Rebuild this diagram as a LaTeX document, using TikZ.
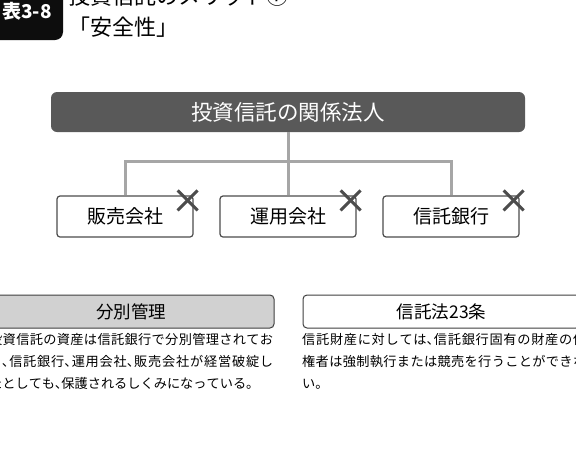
\documentclass[tikz,border=0pt]{standalone}
\usepackage{fontspec}
\setmainfont{Noto Sans CJK JP}
\newfontfamily\bodyfont{Noto Sans CJK JP}[RawFeature=+halt]
\XeTeXlinebreaklocale "ja"
\XeTeXlinebreakskip=0pt plus 1pt

\begin{document}
\begin{tikzpicture}[x=1pt, y=-1pt,
    header/.style={fill=black!65, text=white, rounded corners=6, minimum width=474, minimum height=40, inner sep=0, font=\fontsize{21.5}{24}\selectfont},
    firm/.style={draw=black!70, line width=1.2, fill=white, rounded corners=3, minimum width=136, minimum height=41, inner sep=0, font=\fontsize{19}{22}\selectfont},
    link/.style={draw=black!35, line width=3},
    cross/.style={draw=black!70, line width=3},
    tag/.style={draw=black!75, line width=1, rounded corners=4, minimum width=277, minimum height=33, inner sep=0, font=\fontsize{17.5}{20}\selectfont},
    para/.style={anchor=north west, text width=284, inner sep=0, align=justify, font=\bodyfont\fontsize{13.2}{22}\selectfont}]

% Frame
\useasboundingbox (0,0) rectangle (576,453);
\clip (0,0) rectangle (576,453);
\fill[white] (0,0) rectangle (576,453);

% Figure number and title
\fill[black!95, rounded corners=8] (-20,-20) rectangle (63,40);
\node[text=white, inner sep=0, font=\bfseries\fontsize{19}{20}\selectfont] (figno) at (27,11) {表3-8};
\node[anchor=west, inner sep=0, font=\fontsize{22}{26}\selectfont] (titleA) at (68,-4) {投資信託のメリット⑦};
\node[anchor=west, inner sep=0, font=\fontsize{22}{26}\selectfont] (titleB) at (68,27) {「安全性」};

% Related parties
\node[header] (law) at (288,112) {投資信託の関係法人};
\coordinate (fork) at (288,161);
\node[firm] (sales) at (125,216.5) {販売会社};
\node[firm] (manage) at (288,216.5) {運用会社};
\node[firm] (bank) at (451,216.5) {信託銀行};

\draw[link] (law) -- (fork);
\draw[link] (sales.north) |- (fork) -| (bank.north);
\draw[link] (fork) -- (manage.north);

% Crosses
\foreach \b in {sales,manage,bank} {
    \draw[cross] ([shift={(-16,-5)}]\b.north east) -- ([shift={(4,15)}]\b.north east);
    \draw[cross] ([shift={(-16,15)}]\b.north east) -- ([shift={(4,-5)}]\b.north east);
}

% Segregation and trust law
\node[tag, fill=black!18, minimum width=286] (segregate) at (131,311.5) {分別管理};
\node[tag, fill=white] (trustlaw) at (441.5,311.5) {信託法23条};

\node[para] (segtext) at (-11,333) {\noindent 投資信託の資産は信託銀行で分別管理されてお\linebreak%
り、信託銀行、運用会社、販売会社が経営破綻し\linebreak%
たとしても、保護されるしくみになっている。};
\node[para] (lawtext) at (302,333) {\noindent 信託財産に対しては、信託銀行固有の財産の債\linebreak%
権者は強制執行または競売を行うことができな\linebreak%
い。};

\end{tikzpicture}
\end{document}
